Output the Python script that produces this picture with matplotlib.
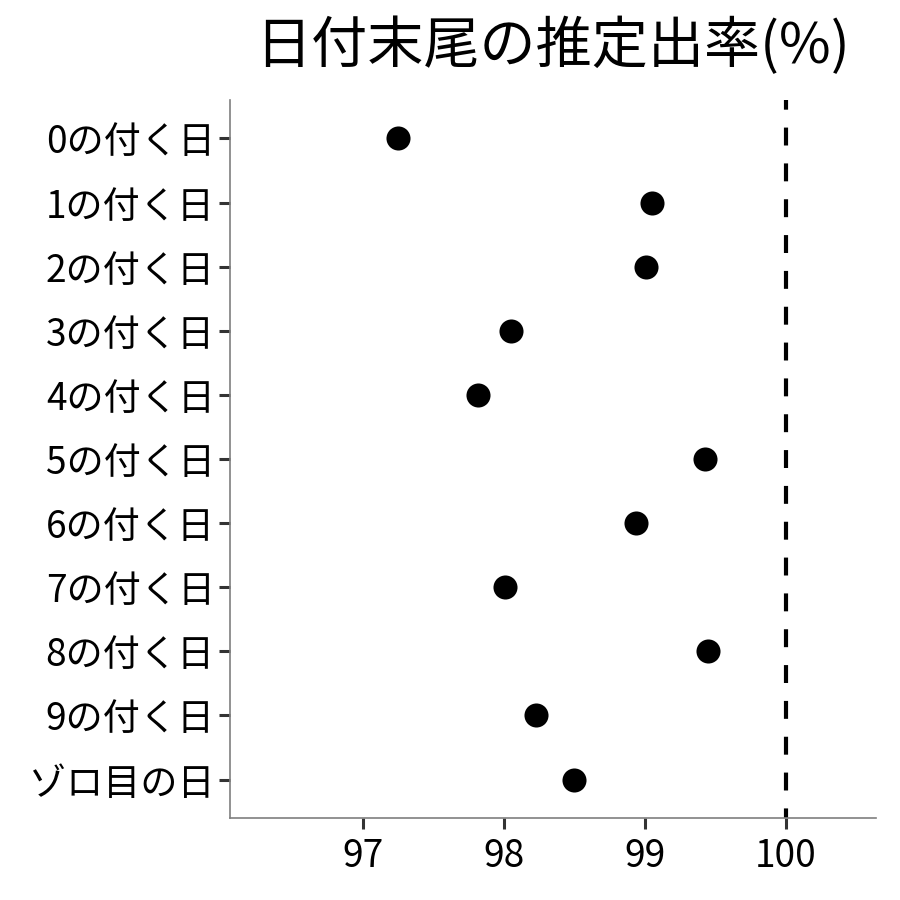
import numpy as np
import matplotlib
matplotlib.use("Agg")
import matplotlib.pyplot as plt

plt.rcParams['font.family'] = ['Noto Sans CJK JP', 'DejaVu Sans']

# Datos
categories = ["0の付く日", "1の付く日", "2の付く日", "3の付く日", "4の付く日",
              "5の付く日", "6の付く日", "7の付く日", "8の付く日", "9の付く日",
              "ゾロ目の日"]
rates = [97.25, 99.05, 99.01, 98.05, 97.82, 99.43, 98.94, 98.01, 99.45, 98.23, 98.50]
x_ticks = [97, 98, 99, 100]
ref_line = 100

fig = plt.figure(figsize=(9, 9), dpi=100)
ax = fig.add_axes([0.2556, 0.0911, 0.7178, 0.7978])

n = len(categories)
ypos = np.arange(n)[::-1]
ax.scatter(rates, ypos, s=300, color="black", zorder=3, linewidths=0)
ax.axvline(ref_line, color="black", lw=3, ls=(2, (4.3, 4.3)), zorder=2)

ax.set_xlim(96.06, 100.64)
ax.set_ylim(-0.6, n - 1 + 0.6)
ax.set_yticks(ypos)
ax.set_yticklabels(categories)
ax.set_xticks(x_ticks)
ax.set_xticklabels([str(t) for t in x_ticks])

for s in ["top", "right"]:
    ax.spines[s].set_visible(False)
for s in ["left", "bottom"]:
    ax.spines[s].set_color("#7f7f7f")
    ax.spines[s].set_linewidth(1.2)

ax.tick_params(axis="both", colors="#333333", width=2.2, length=8,
               labelsize=26.7, labelcolor="black", pad=3)
ax.tick_params(axis="x", pad=6)

fig.text(0.6144, 0.948, "日付末尾の推定出率(%)", ha="center", va="center",
         fontsize=40.4)

fig.savefig("out.png", dpi=100)
